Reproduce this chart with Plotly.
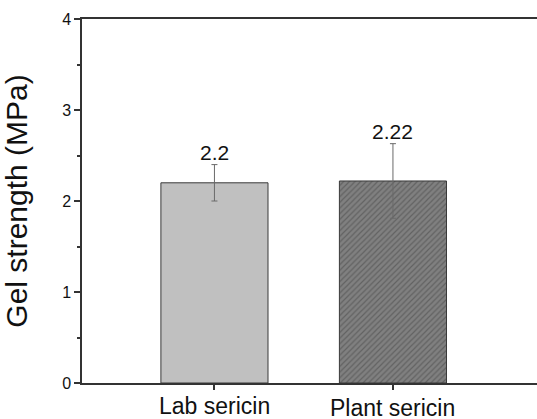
import plotly.graph_objects as go

categories = ["Lab sericin", "Plant sericin"]
values = [2.2, 2.22]
errors = [0.2, 0.41]
labels = ["2.2", "2.22"]

FONT = "Arial, Liberation Sans, sans-serif"

fig = go.Figure()
fig.add_trace(go.Bar(
    x=categories, y=values, width=0.6,
    marker=dict(
        color=["#c0c0c0", "#808080"],
        line=dict(color="#3a3a3a", width=1),
        pattern=dict(shape=["", "/"], fgcolor="#404040", bgcolor="#858585",
                     size=4, solidity=0.3, fillmode="overlay"),
    ),
    error_y=dict(type="data", array=errors, visible=True,
                 color="#6a6a6a", thickness=1, width=3),
    showlegend=False,
))

for c, v, e, t in zip(categories, values, errors, labels):
    fig.add_annotation(x=c, y=v + e, text=t, showarrow=False,
                       yanchor="bottom", yshift=-1,
                       font=dict(family=FONT, size=21, color="#111111"))

cat_shift = [-8, -10]
for c, s in zip(categories, cat_shift):
    fig.add_annotation(x=c, y=0, yref="paper", text=c, showarrow=False,
                       yanchor="top", yshift=s,
                       font=dict(family=FONT, size=23, color="#111111"))

fig.update_layout(
    width=537, height=419,
    margin=dict(l=82, r=0, t=19, b=36),
    paper_bgcolor="white", plot_bgcolor="white",
    font=dict(family=FONT, color="#111111"),
    xaxis=dict(
        range=[-0.742, 1.807], showline=True, linecolor="#333333", linewidth=1.5,
        mirror=True, ticks="outside", ticklen=5, tickcolor="#333333",
        tickwidth=1.5, showticklabels=False,
        showgrid=False, zeroline=False, automargin=False,
    ),
    yaxis=dict(
        range=[0, 4], tickvals=[0, 1, 2, 3, 4], showline=True,
        linecolor="#333333", linewidth=1.5, ticks="outside", ticklen=6,
        tickcolor="#333333", tickwidth=1.5,
        tickfont=dict(size=16, family=FONT, color="#111111"),
        minor=dict(tickvals=[0.5, 1.5, 2.5, 3.5], ticks="outside", ticklen=3,
                   tickcolor="#333333", tickwidth=1.5),
        showgrid=False, zeroline=False, automargin=False,
        title=dict(text="Gel strength (MPa)", standoff=26,
                   font=dict(size=30, family=FONT, color="#111111")),
    ),
)

fig.write_html("out.html", config={"displayModeBar": False},
               post_script="document.body.style.margin='0px';")
